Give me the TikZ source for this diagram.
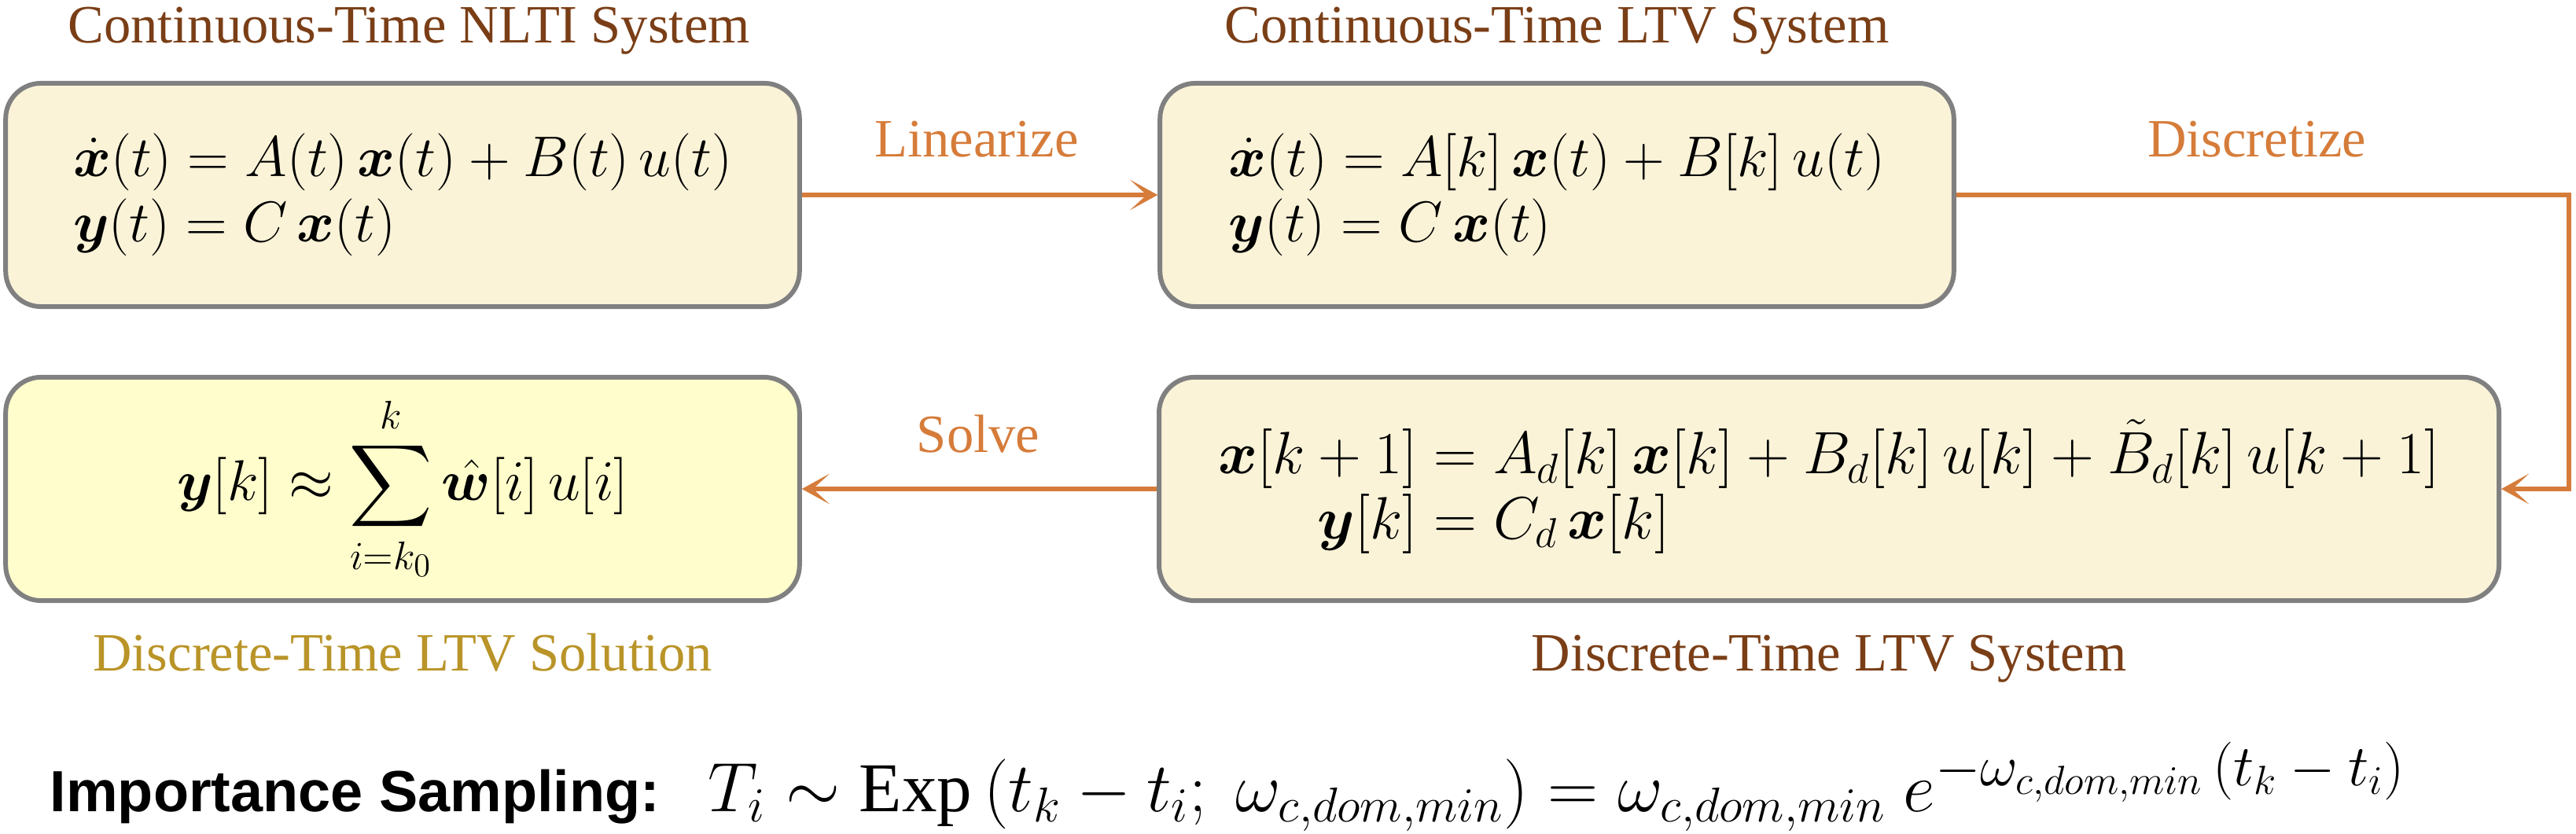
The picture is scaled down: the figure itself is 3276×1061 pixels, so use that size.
\documentclass[tikz,border=0pt]{standalone}
\usepackage{fix-cm}
\usepackage{fontspec}
\usepackage{amsmath}
\usepackage{bm}
\setmainfont{Liberation Serif}
\newfontfamily\labelfont{Liberation Sans}
\usetikzlibrary{arrows.meta}
\definecolor{titlebrown}{RGB}{122,62,22}
\definecolor{steporange}{RGB}{214,124,58}
\definecolor{solgold}{RGB}{185,148,40}
\definecolor{boxcream}{RGB}{250,243,216}
\definecolor{solyellow}{RGB}{255,253,204}
\definecolor{edgegray}{RGB}{128,128,128}
\tikzset{
    heading/.style={
        font=\fontsize{19.5}{24}\selectfont, text=titlebrown, anchor=base
    }
}

\begin{document}
\begin{tikzpicture}[x=0.01cm, y=-0.01cm, line cap=round, line join=round, >={Stealth[length=10pt, width=11pt, inset=6pt]}]

\tikzset{
  box/.style={draw=edgegray, fill=boxcream, line width=1.7pt, rounded corners=0.45cm, minimum width=10.09cm, minimum height=2.84cm, inner sep=0pt, align=left, font=\fontsize{20.74}{23.5}\selectfont},
  steplab/.style={font=\fontsize{19.5}{24}\selectfont, text=steporange},
  flow/.style={->, draw=steporange, line width=1.7pt, line cap=butt, line join=miter}
}

\useasboundingbox (0,0) rectangle (3276,1061);

\node[box] (nlti) at (512,248) {$\dot{\bm x}(t) = A(t)\,\bm x(t) + B(t)\,u(t)$\\ $\bm y(t) = C\,\bm x(t)$};
\node[box] (ctv) at (1980,248) {$\dot{\bm x}(t) = A[k]\,\bm x(t) + B[k]\,u(t)$\\ $\bm y(t) = C\,\bm x(t)$};
\node[box, minimum width=17.03cm] (dtv) at (2326,622) {\fontsize{21.6}{23.5}\selectfont$\begin{aligned}\bm x[k+1] &= A_d[k]\,\bm x[k] + B_d[k]\,u[k] + \tilde{B}_d[k]\,u[k+1]\\[-3pt] \bm y[k] &= C_d\,\bm x[k]\end{aligned}$};
\node[box, fill=solyellow] (sol) at (512,622) {$\bm y[k] \approx \displaystyle\sum_{i=k_0}^{k} \hat{\bm w}[i]\,u[i]$};

\node[heading] (nltititle) at (520,55) {Continuous-Time NLTI System};
\node[heading] (ctvtitle) at (1980,55) {Continuous-Time LTV System};
\node[heading, text=solgold] (soltitle) at (512,853) {Discrete-Time LTV Solution};
\node[heading] (dtvtitle) at (2326,853) {Discrete-Time LTV System};

\node[steplab] (linlab) at (1242,177) {Linearize};
\node[steplab] (dislab) at (2870,177) {Discretize};
\node[steplab] (sollab) at (1244,552) {Solve};

\coordinate (bend) at (3267,248);
\draw[flow] (nlti) -- (ctv);
\draw[flow] (ctv.east) -- (bend) |- (dtv.east);
\draw[flow] (dtv) -- (sol);

\node[anchor=base west, inner sep=0pt, font=\labelfont\bfseries\fontsize{21}{25}\selectfont] (islab) at (63,1032) {Importance Sampling:};
\node[anchor=base west, inner sep=0pt, font=\fontsize{25.3}{28}\selectfont] (isform) at (900,1032) {$T_i \sim \mathrm{Exp}\left(t_k - t_i;\ \omega_{c,dom,min}\right) = \omega_{c,dom,min}\ e^{\mbox{\fontsize{21}{24}\selectfont$-\omega_{c,dom,min}\left(t_k - t_i\right)$}}$};

\end{tikzpicture}
\end{document}
